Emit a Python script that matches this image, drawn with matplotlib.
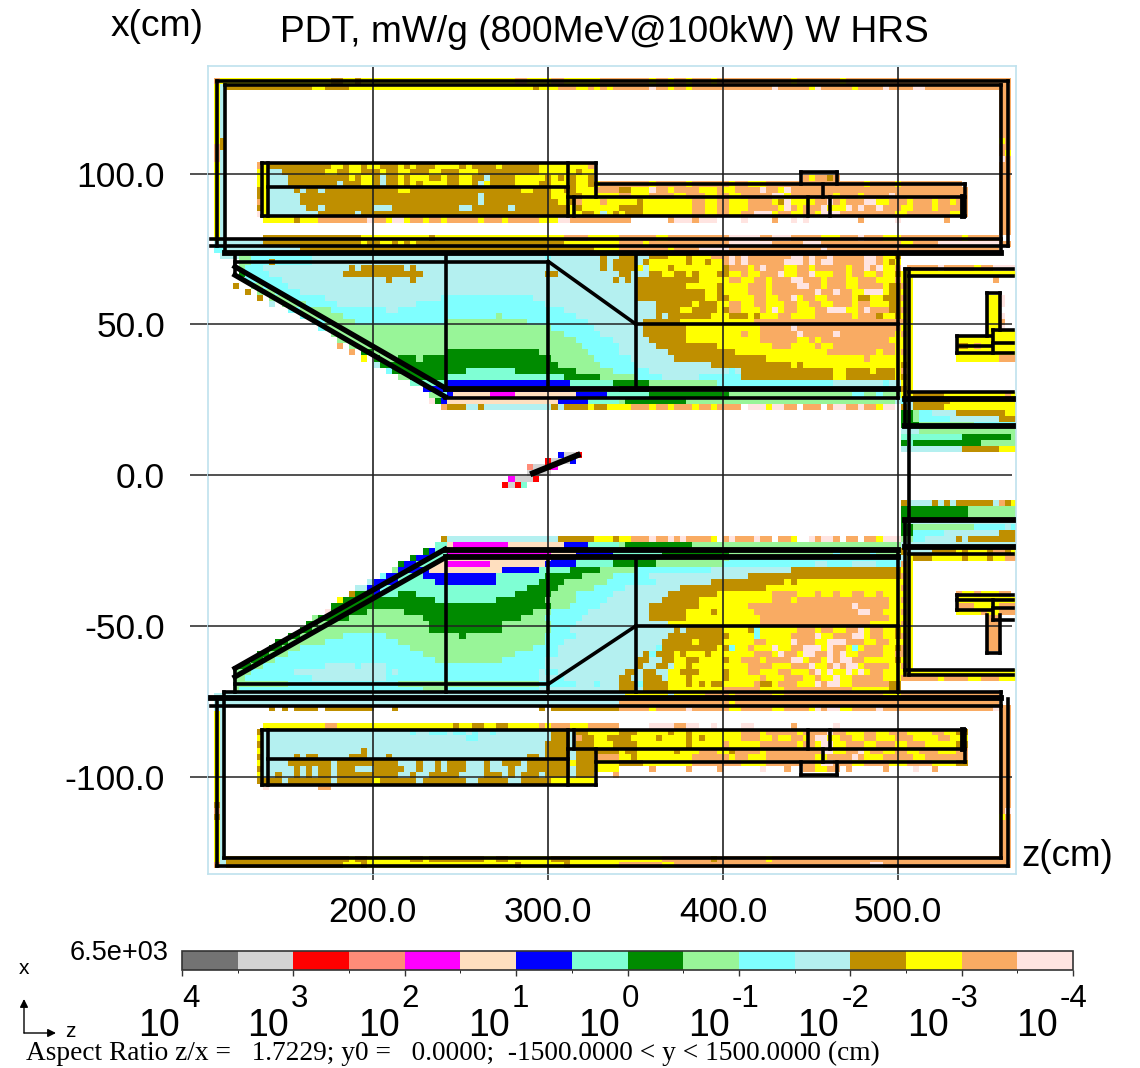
import re

import matplotlib
matplotlib.use('Agg')
import matplotlib.pyplot as plt
import numpy as np

from matplotlib.collections import LineCollection
from matplotlib.colors import BoundaryNorm, ListedColormap

# Colour bands from 10^4 down to 10^-4, two per decade
band_keys = 'glrsmpbaGLctoynw'
band_colours = [
    '#737373', '#d3d3d3', '#ff0000', '#ff8c78', '#ff00ff', '#ffdfbf',
    '#0000ff', '#7fffd4', '#008b00', '#98f598', '#7fffff', '#b4f0f0',
    '#bf8f00', '#ffff00', '#f9ab63', '#ffe4e1']
band_values = [3.75, 3.25, 2.75, 2.25, 1.75, 1.25, 0.75, 0.25,
               -0.25, -0.75, -1.25, -1.75, -2.25, -2.75, -3.25, -3.75]

z_ticks = [200, 300, 400, 500]
z_labels = ['200.0', '300.0', '400.0', '500.0']
x_ticks = [100, 50, 0, -50, -100]
x_labels = ['100.0', '50.0', '0.0', '-50.0', '-100.0']
bar_decades = [4, 3, 2, 1, 0, -1, -2, -3, -4]

# Cell rows: a letter is the band, the number the column where it stops
top_wall_rows = [
    ".1 n2 y20 o22 y24 o25 y50 n52 y56 n58 y64 n72 y73 n75 y76 n78 y79 n82 y83 n95 y96 n103 y104 n131",
    ".1 y2 t3 o17 y19 o23 y53 o54 y57 n60 y62 n63 y64 n65 y66 n72 w73 n75 y76 n78 y79 n92 w93 n98 y99 w100 n105 y106 n110 w111 n115 w117 n131"]
upper_side_rows = [".1 y2 t3 .129 n131"] * 24
upper_side_spots = [".2 o3 .129 y130", ".1 n2 .2 o3", ".1 n2 .130 y131", ".1 n2 .129 w130"]
upper_magnet_rows = [
    ".8 n9 y10 o20 y22 o23 y25 o26 y28 o31 y32 o33 y34 o37 y41 o42 y43 o47 y48 o51 o54 y59 y62 n63",
    ".8 y10 t12 o19 y21 o23 y25 o28 y29 o31 y33 o36 y38 o41 y44 o50 o54 y60 o61 y63",
    ".8 y10 t13 o23 y24 o25 y27 o28 t29 o31 y32 o33 y36 o38 y39 o41 y43 o45 t46 o50 y55 o56 y57 o58 y59 o60 y62 o63",
    ".8 y10 t13 o21 t22 o25 y27 o28 t29 o31 y32 o33 y34 o35 y39 o41 y43 o44 t45 y46 o50 y54 o56 y59 o60 y62 o63 y64 n72 y73 n78 y79 n85 y86 n88 y91 n107 y108 n112 y113 n123",
    ".8 o9 y10 t14 o15 t16 o18 t19 o31 y33 o51 y53 o56 y58 o60 y63 n67 o69 y72 w73 n75 y76 n80 y83 n84 y86 n90 w91 n93 y94 w95 n124",
    ".8 o9 y10 t15 o44 t45 o56 y59 o61 y67 n69 y72 n76 y78 n81 y83 n85 y87 n92 w94 y95 n102 y103 n106 y107 n111 w112 n124",
    ".8 n9 y10 t15 o44 t45 o57 y59 o60 n61 y64 n65 y70 o71 y79 n81 y83 n85 y88 n92 y93 o94 w95 y97 y99 n101 w102 n103 y104 n107 w109 y111 n114 y115 n118 y119 n121 y122 n124",
    ".8 o9 y10 t16 o18 t19 o27 t30 o41 t43 o49 t50 o59 y60 o61 y67 o71 y79 n81 y83 n85 y88 n93 y94 w95 n96 y97 n100 w101 y102 y104 w105 n106 w107 n109 w110 n113 y115 n118 y119 n124",
    ".8 w9 y10 t18 o24 t25 o59 y61 o63 y64 t65 y66 o67 y68 o71 y79 n81 y83 n85 y87 n89 w92 y93 n95 y97 n99 y100 w103 n112 y114 n121 y123 n124",
    ".9 y14 o15 y18 n26 w27 n29 y30 w32 y33 n35 y36 n38 y39 n44 y45 n48 y49 n54 y57 w59 n69 .75 n76 w79 n80 w83 .87 w88 .92 n93 .95 w96 .97 w98 .106 n107 .112 w113 .120 n121"]
upper_bump_rows = [".97 n98 y99 n101 o102 n103"]
lower_bump_rows = [".97 n99 y101 n103"]
upper_gap_rows = [
    ".1 y2 t3 .9 o25 y36 o37 y58 n62 y67 n73 y75 n85 w90 n92 w95 n100 y103 n106 w107 n110 y113 n123 y124 n129",
    ".1 t3 t9 o25 y26 o28 y30 o31 y32 o33 y34 o58 y67 n71 y72 n85 w92 n97 w100 n113 y115 n119 w129 n131",
    ".1 c3 t15 o63 y67 n75 y76 n80 w85 n100 w101 n129"]
upper_wedge_rows = [
    ".2 t5 L7 c17 t55 c56 t64 o65 t67",
    ".5 L7 c10 o11 c17 t64 o65 t66 o67",
    ".5 L6 c9 t23 o24 t25 o32 t33 o34 t64 o65 t66 o67",
    ".5 G6 c10 t22 o35 t55 o57 t67",
    ".6 c12 t29 o30 t33 o34 t66 o67",
    ".4 o5 .7 L9 c13 t67",
    ".6 o7 .8 L11 c15 t67",
    ".8 o9 .10 L13 c19 t38 c53 t67",
    ".10 t11 .12 L16 c21 t34 c55 t67",
    ".13 c15 L20 c29 t31 c58 t67",
    ".15 c16 L22 c47 L48 c60 t67",
    ".17 c19 L24 c39 L52 c62 t67",
    ".18 c19 L56 c63 t67",
    ".20 L58 c64 t67",
    ".21 L60 c66 t67",
    ".21 n22 .23 L61 c67",
    ".23 n24 .25 G27 L39 G54 L62 c67",
    ".25 y26 .27 G28 L31 G34 L35 G56 L63 c67",
    ".27 t28 G57 L64 c67",
    ".29 c30 G42 a50 G60 L66 c67",
    ".31 L33 G39 a58 G64 L67",
    ".33 a39 b59 a66 G67",
    ".35 b59 a67",
    ".36 L38 c39 b40 p46 m50 p60 b65 a67",
    ".36 w37 G38 b39 p57 b62 a67",
    ".38 n39 o42 t44 o45 t56 o57 t58 o62 y63 o65 y67"]
upper_wedge_right_rows = [
    ".67 o70 t72 o75 y78 o79 y82 n85 w86 n87 w88 n95 w97 n98 w99 n101 w102 n107 w109 n110 y112 o113",
    ".67 o70 t71 o72 y78 o79 y81 o82 y84 n85 w86 n87 w88 n94 w97 n98 w99 n100 w102 n107 w109 n110 y111 o112 y113",
    ".67 o70 y71 t72 y75 o76 y84 o85 n88 y89 n90 w91 n94 y96 n98 y99 n104 y105 n107 w108 n109 w110 y112 n113",
    ".67 o69 t72 o74 y76 o78 y79 o80 y83 o85 y87 n88 y90 n93 w94 y96 n98 w99 y102 n104 y105 n107 y109 n110 y112 o113",
    ".67 t68 o69 t70 o80 y85 n87 y89 n91 y92 n95 w97 n100 y101 n104 y106 n109 y112 n113",
    ".67 t70 o78 y83 o84 y88 n91 y92 n96 w98 n100 y101 n104 y106 n110 y111 o113",
    ".67 t70 o81 y83 o84 y88 n91 y92 n99 w100 n102 w103 n105 y107 w110 y111 o113",
    ".67 t70 o81 y83 o85 y89 n91 y93 n95 w96 y97 n99 y101 n105 y106 o108 y110 o113",
    ".67 t73 o79 y80 o83 y85 n87 y89 n91 y94 n96 y98 n100 y102 n105 y106 n108 y111 o113",
    ".67 t73 o77 y79 o83 y84 o85 n87 y90 n91 y92 w93 y94 n96 y99 n101 w104 y106 n107 w108 n111 o113",
    ".67 t73 o74 t75 o82 y85 o88 y89 o90 y93 n95 y99 n105 y106 n109 o110 y112 o113",
    ".67 t71 o77 y89 n113",
    ".67 t71 o78 y90 n95 w96 n113",
    ".67 t71 o78 y87 n88 y90 n96 w97 n102 w103 n112 y113",
    ".67 t72 o78 y90 n96 y98 n99 y100 n111 y113",
    ".67 t73 o83 y92 n95 y99 n100 y102 n112 y113",
    ".67 t75 o86 y101 n109 y110 n112 y113",
    ".67 c69 t76 o91 y107 n108 y113",
    ".67 c70 t82 o95 y96 o97 y113",
    ".67 c72 t85 c86 t87 o102 y104 o108 y109 o112 y113",
    ".67 L70 c74 t80 c87 o102 y104 o112 y113",
    ".67 G72 L83 c102 t110 c111 t113",
    ".67 G72 L85 c113",
    ".67 a72 G85 L105 c107 L109 c110 L113",
    ".67 L68 G78 L113",
    ".67 y69 n72 y73 n75 y76 n79 y80 n82 y83 n87 .88 w91 y92 w94 n96 .97 n100 .101 n102 w104 n106 w107 n109 y110 w112"]
right_upper_rows = [
    ".114 n119 w120 n125 y126 n128 w132",
    ".113 y132",
    ".113 y115 .128 n129",
    ".113 n114 y115",
    ".113 y115",
    ".113 n114 y115 .127 y129 w130",
    ".113 y115 .127 y129 w130",
    ".113 n114 y115 .127 y129",
    ".113 y115 .127 y129 w130",
    ".113 n114 y115 .127 y129 n130",
    ".113 y115 .127 y129 w130",
    ".113 n114 y115 .127 y132",
    ".113 y115 .122 y132",
    ".113 y115 .122 o124 y125 n126 y132",
    ".113 n114 y115 .122 y132",
    ".113 y115 .122 y129 n132",
    ".113 o114 y115",
    ".113 n114 y115",
    ".113 o114 y115",
    ".113 y115",
    ".113 o114 y115",
    ".113 y114 y115 o120 y130 n131 y132",
    ".112 t113 c114 t115 o121 y132",
    ".113 o114 t115 o120 y132",
    ".113 G115 L116 c118 t122 o130 y132",
    ".113 G115 L116 c121 t129 o132",
    ".113 G116 L125 c132",
    ".113 t116 L132",
    ".113 a123 G131 L132",
    ".113 G114 a115 G126 L132",
    ".113 t123 o129 y132"]
target_rows = [
    ".57 b58 l60 r61",
    ".55 r56 l59 b60",
    ".52 s53 l55 r56 m57",
    ".52 l56",
    ".49 m50 l53 r54",
    ".48 r49 l50 r51 a52"]
right_lower_rows = [
    ".113 o114 t118 o119 t120 o121 t122 o128 t129 n130 o131 y132",
    ".113 G124 L132",
    ".113 G124 L132",
    ".113 G114 t132",
    ".113 G115 L125 c130 t131 c132",
    ".113 G115 c120 t129 o132",
    ".113 L115 c117 t122 o123 t124 o132",
    ".113 t115 t132",
    ".113 o114 t118 o122 y123 o124 y127 o128 n130 o131 y132",
    ".113 t114 y115 o118 y123 o124 y127 o128 y130 n132",
    ".113 n114 y115",
    ".113 y115",
    ".113 n114 y115",
    ".113 y115",
    ".113 n114 y115",
    ".113 y115 .122 n123 y125 n126 y129 n131",
    ".113 n114 y115 .122 y132",
    ".113 y115 .122 n125 y129 n132",
    ".113 n114 y115 .122 y126 n127 y129 n132",
    ".113 y115 .127 n129",
    ".113 n114 y115 .127 n129",
    ".113 y115 .127 n129",
    ".113 n114 y115 .127 n129",
    ".113 y115 .127 n129",
    ".113 n114 y115 .127 n129",
    ".113 n114 y115",
    ".113 y115",
    ".113 n114 y115",
    ".113 y132",
    ".113 n119 y120 n124 y126 n129 y132"]
lower_wedge_rows = [
    ".38 o39 t57 o63 y66 o67",
    ".37 a39 p40 m49 p58 b62 a67",
    ".35 G36 b37 a39 m56 p60 b66 a67",
    ".33 G34 b36 a39 p56 b60 a66 G67",
    ".31 G32 b34 a37 p39 m46 p55 b60 a66 G67",
    ".30 L31 b36 p48 b54 a59 G64 L67",
    ".28 c29 b31 a35 b47 a55 G61 L66 c67",
    ".26 t27 b31 a37 b47 a54 G58 L65 c67",
    ".24 t26 b28 c29 a52 G57 L63 c67",
    ".23 o24 G27 b28 a31 G34 a50 G56 L60 c66 t67",
    ".21 y22 G37 a47 G55 L60 c65 t67",
    ".20 G56 L59 c64 t67",
    ".19 w20 G26 L32 G53 L56 c62 t67",
    ".17 L18 G23 L35 G51 L55 c61 t67",
    ".16 G18 L36 G48 L56 c60 t67",
    ".15 G17 L36 G48 L56 c59 t67",
    ".13 G15 L22 c29 L41 G42 L55 c60 t67",
    ".11 G13 L19 c31 L55 c58 t67",
    ".10 G12 L15 c33 L53 c57 t67",
    ".8 G10 L13 c35 L50 c57 t67",
    ".7 G9 L11 c37 L48 c55 t67",
    ".5 G7 L9 c19 t24 c25 t29 c55 t67",
    ".4 L7 c14 t29 c30 t31 c54 t55 c57 t67",
    ".4 L6 c17 t29 c54 t57 c58 t67",
    ".4 L13 c31 L54 c60 t63 c64 t67",
    ".4 L5 c35 L39 c54 t67"]
lower_wedge_right_rows = [
    ".67 y69 n72 w73 n75 w76 n77 w78 n82 y83 .84 n85 w86 n89 w90 n92 .93 n95 y96 .98 w99 n100 w102 n103 .104 n106 .107 n109 y110 w113",
    ".67 L68 G79 L113",
    ".67 a74 G85 L102 c103 L108 c109 L113",
    ".67 G73 L85 c113",
    ".67 G73 L84 c99 t101 c105 t109 c113",
    ".67 L70 c82 t95 o113",
    ".67 c72 t88 o113",
    ".67 c73 t82 o94 y95 o96 y113",
    ".67 c68 t77 o91 y113",
    ".67 t75 o83 y92 n96 y99 n100 y102 n103 y105 n107 y109 n110 y113",
    ".67 t74 o80 y92 n95 y96 n111 y113",
    ".67 t72 o80 y88 n105 w106 n111 y113",
    ".67 t72 o78 y82 o83 y89 n106 w108 n110 y113",
    ".67 t72 o78 y90 n111 y113",
    ".67 t75 y90 n108 y113",
    ".67 t76 o77 t78 o84 y88 o89 c90 y96 n99 y100 n102 y104 n106 w107 y108 n110 y112 o113",
    ".67 t75 o85 y89 c90 y95 n99 w100 y102 n105 w107 y108 n110 y112 o113",
    ".67 t74 o79 y80 o84 y89 n91 y95 w96 n99 y101 w104 n107 y109 n111 y113",
    ".67 t73 c74 o83 y84 o85 c86 y88 n89 y92 w93 y95 n97 w100 y101 w102 n104 y105 c106 y107 n110 y112 o113",
    ".67 t71 o72 c73 o76 y77 o78 y81 o82 y89 n92 y93 w94 n96 y97 w99 n101 w102 n103 w104 y106 n110 y112 n113",
    ".67 t70 o72 t74 o76 y78 o80 y84 o85 y87 n90 y91 n95 w97 y98 n100 y101 w102 n103 w105 n107 y112 o113",
    ".67 t70 o71 t73 o75 t76 y78 o79 y88 n92 y95 n98 w99 y101 n102 w103 n104 w106 y107 n111 y113",
    ".67 t68 o70 t71 o73 t75 y77 o80 y84 o85 y88 n90 y93 n95 y98 n99 w100 y101 w102 y104 w105 y106 w107 y108 n110 y113",
    ".67 o69 t71 o74 t75 y78 o79 y84 o85 y90 n91 y94 n97 y99 n100 y102 w103 y105 n110 y113",
    ".67 o70 c71 o75 y78 o79 y80 o81 y82 o84 y89 n90 o92 y93 n96 y99 w100 n101 w103 y105 n111 o113",
    ".67 o70 t71 o75 y84 n90 y94 n105 y111 o113"]
lower_gap_rows = [
    ".1 t68 y75 t76 y81 n85 y86 n92 y94 n110 y113 n129",
    ".1 t67 n85 y86 n129",
    ".1 t3 .10 o11 .12 o13 .14 o18 .19 o27 .30 o31 .54 o55 .56 o67 n72 y73 n78 w79 n85 y87 n92 y94 n98 y99 w100 n101 w103 y105 n109 w110 n128 w129 n131"]
lower_side_rows = [".1 y2 t3 .129 n131"] * 24
lower_side_spots = [".1 o2", ".1 n2 .130 w131", ".1 o2 .129 y130"]
lower_magnet_rows = [
    ".9 y19 n21 y40 o41 y43 o45 y47 o49 y54 n55 y56 n59 y62 n67 .72 w73 w76 n78 w80 .82 w83 .87 w89 .95 n96 .102 w103",
    ".8 o9 t33 c34 t36 c39 t40 c42 t43 c44 t46 c47 t56 o59 t60 o62 y67 o70 y75 o76 y78 o79 y87 n90 y91 n96 y97 n101 w102 n104 y107 n109 y111 n114 y118 n120 y122 o124",
    ".8 y9 t42 c44 t56 o59 t60 n61 o63 y65 o67 o69 y73 o74 y78 o79 y80 o81 y87 n90 y92 n93 y95 n97 y98 n99 w101 y103 n105 y107 n109 y112 n115 y119 n121 y124",
    ".8 o9 t55 o59 t60 o63 y66 o68 o70 y75 y78 o79 y84 n85 y90 n96 y97 n99 y100 w102 y104 n107 y109 n112 y114 n117 y122 o124",
    ".8 y9 t25 o26 t55 o59 t60 o63 o67 y68 o70 y76 o77 y80 n83 y85 o86 n90 y91 n98 n100 w102 y104 n106 w107 y108 n110 y112 n114 y116 n119 y122 n124",
    ".8 o9 t14 o15 t16 o18 t23 o26 t29 o30 t52 o54 t55 o59 t60 o63 n67 y69 o70 y79 n85 y86 n88 y91 n99 y101 n105 w106 n107 y110 n115 y117 n122 n124",
    ".8 y9 t13 o20 t21 o31 t34 o35 t37 o38 t39 o42 t45 o46 t48 o51 t52 o59 y60 o63 y67 o71 y79 n84 n87 y91 n99 y100 w102 n105 y107 n111 y114 n118 y122 o124",
    ".8 o9 t14 o15 t16 o17 t18 o20 t21 o24 t27 o32 t34 o35 t37 o38 t39 o42 t45 o46 t49 o50 t52 o59 t60 o63 y67 .72 n73 .78 n79 .83 n84 .90 w91 .94 n95 .104 n105 .110 n111 .115 w116 .118 n119",
    ".8 y9 t11 o12 t14 o15 t16 o17 t18 o20 t21 o31 t33 o34 t36 o41 t45 o48 t49 o50 t51 o54 t55 o59 t60 o63 .66 n67",
    ".8 o9 o12 t13 o20 t21 o27 y28 o34 t35 o42 t44 o49 t51 o56 y59 y63",
    ".9 w10 .18 n20"]
bottom_wall_rows = [
    ".1 y2 t3 o23 y24 o26 y33 o35 y36 o45 y47 o49 y56 o59 y74 n82 o83 n91 y92 n131",
    ".1 n2 t3 o22 y25 o26 y50 o51 y58 o59 y67 n74 y76 n108 w110 n131"]

# Outlines of the geometry, z and x in cm, (z1, x1, z2, x2)
thin_lines = [
    (111.3, 130.8, 562.4, 130.8), (115.7, 129.3, 558.4, 129.3),
    (111.3, 130.8, 111.3, 76.0), (115.7, 129.3, 115.7, 73.7),
    (562.4, 130.8, 562.4, 76.0), (558.4, 129.3, 558.4, 73.7),
    (107.7, 78.2, 558.4, 78.2), (107.7, 76.0, 562.4, 76.0),
    (136.6, 103.6, 327.5, 103.6), (136.6, 85.9, 538.0, 85.9),
    (136.6, 103.6, 136.6, 85.9), (140.4, 103.6, 140.4, 85.9),
    (140.4, 95.4, 311.7, 95.4), (311.7, 103.6, 311.7, 85.9),
    (315.0, 92.3, 315.0, 85.9), (311.7, 92.3, 538.0, 92.3),
    (327.5, 103.6, 327.5, 92.3), (327.5, 96.5, 538.0, 96.5),
    (538.0, 96.5, 538.0, 85.9), (444.5, 96.5, 444.5, 100.6),
    (444.5, 100.6, 464.8, 100.6), (464.8, 100.6, 464.8, 96.5),
    (457.2, 96.5, 457.2, 92.3), (448.6, 92.3, 448.6, 85.9),
    (461.0, 92.3, 461.0, 85.9),
    (121.4, 70.8, 300.3, 70.8), (121.4, 73.7, 121.4, 66.3),
    (241.8, 73.7, 241.8, 28.7), (300.3, 70.8, 300.3, 28.7),
    (350.3, 73.7, 350.3, 28.7), (300.3, 70.8, 350.3, 50.0),
    (350.3, 50.0, 500.0, 50.0), (500.0, 73.7, 500.0, 25.6),
    (241.3, 25.6, 500.0, 25.6),
    (503.8, 68.3, 503.8, 16.4), (506.3, 68.3, 506.3, -66.3),
    (503.8, 68.3, 565.5, 68.3), (506.3, 66.1, 565.5, 66.1),
    (506.3, 27.6, 565.5, 27.6),
    (550.5, 60.3, 558.0, 60.3), (550.5, 60.3, 550.5, 46.1),
    (558.0, 60.3, 558.0, 48.0), (533.7, 46.1, 553.3, 46.1),
    (533.7, 46.1, 533.7, 40.4), (533.7, 40.4, 565.5, 40.4),
    (535.0, 42.9, 553.3, 42.9), (553.9, 48.0, 553.9, 40.4),
    (553.9, 48.0, 565.5, 48.0), (553.9, 43.7, 565.5, 43.7),
    (550.5, -46.4, 550.5, -59.1), (550.5, -59.1, 558.0, -59.1),
    (558.0, -59.1, 558.0, -46.4), (533.7, -39.8, 565.5, -39.8),
    (533.7, -41.5, 565.5, -41.5), (533.7, -39.8, 533.7, -44.8),
    (533.7, -44.8, 553.3, -44.8), (553.9, -41.5, 553.9, -48.0),
    (553.9, -48.0, 565.5, -48.0), (553.9, -44.0, 565.5, -44.0),
    (503.8, -14.9, 503.8, -66.3), (503.8, -64.7, 565.5, -64.7),
    (506.3, -66.3, 565.5, -66.3), (506.3, -26.3, 565.5, -26.3),
    (241.8, -27.3, 241.8, -71.9), (300.0, -27.3, 300.0, -71.9),
    (350.3, -27.3, 350.3, -71.9), (500.0, -24.9, 500.0, -71.9),
    (121.4, -69.3, 300.0, -69.3), (300.3, -69.3, 350.3, -50.0),
    (350.3, -50.0, 500.0, -50.0), (121.4, -64.1, 121.4, -71.9),
    (115.1, -71.9, 558.4, -71.9), (107.7, -76.6, 558.4, -76.6),
    (111.3, -74.3, 111.3, -129.6), (115.1, -71.9, 115.1, -127.1),
    (558.4, -71.9, 558.4, -127.1), (562.4, -74.3, 562.4, -129.6),
    (115.1, -127.1, 558.4, -127.1), (111.3, -129.6, 562.4, -129.6),
    (136.6, -84.4, 538.0, -84.4), (136.6, -102.8, 327.5, -102.8),
    (136.6, -84.4, 136.6, -102.8), (140.4, -84.4, 140.4, -102.8),
    (140.4, -94.0, 311.7, -94.0), (311.7, -84.4, 311.7, -102.8),
    (315.0, -84.4, 315.0, -90.7), (311.7, -90.7, 538.0, -90.7),
    (327.5, -90.7, 327.5, -102.8), (327.5, -95.0, 538.0, -95.0),
    (538.0, -84.4, 538.0, -95.0), (444.5, -95.0, 444.5, -99.5),
    (444.5, -99.5, 464.8, -99.5), (464.8, -99.5, 464.8, -95.0),
    (457.2, -90.7, 457.2, -95.0), (448.6, -84.4, 448.6, -90.7),
    (461.0, -84.4, 461.0, -90.7)]
thick_lines = [
    (115.7, 73.7, 558.4, 73.7), (241.8, 28.7, 500.0, 28.7),
    (503.8, 25.2, 565.5, 25.2), (503.8, 16.4, 565.5, 16.4),
    (503.8, -14.9, 565.5, -14.9), (503.8, -23.8, 565.5, -23.8),
    (241.8, -24.9, 500.0, -24.9), (241.8, -27.3, 500.0, -27.3),
    (107.7, -73.9, 558.4, -73.9), (537.0, 92.3, 537.0, 85.9),
    (537.0, -84.4, 537.0, -90.7)]
slope_lines = [
    (121.4, 69.1, 242.2, 28.6), (121.4, 66.3, 241.3, 26.0),
    (121.4, -64.1, 241.3, -24.6), (121.4, -66.9, 242.2, -27.1)]
target_line = [(291.5, 0.6, 317.0, 6.6)]


def paint(field, first_row, rows):
    """Write run-length rows into `field`, starting at `first_row`."""
    for i, row in enumerate(rows):
        column = 0
        for key, end in re.findall(r'([a-zA-Z.])(\d+)', row):
            end = int(end)
            if key != '.':
                field[first_row + i, column:end] = band_values[
                    band_keys.index(key)]
            column = end


def draw_lines(ax, lines, width, zorder=4):
    segments = [((z1, x1), (z2, x2)) for z1, x1, z2, x2 in lines]
    ax.add_collection(LineCollection(
        segments, colors='black', linewidths=width, zorder=zorder,
        capstyle='projecting'))


def px(x, y):
    return x / WIDTH, 1 - y / HEIGHT


WIDTH, HEIGHT = 1140, 1068
n_rows, n_cols = 134, 132
z_edges = 106 + 3.5 * np.arange(n_cols + 1)
x_edges = 135.65 - 2.0 * np.arange(n_rows + 1)

field = np.full((n_rows, n_cols), np.nan)
for first_row, rows in [
        (2, top_wall_rows), (4, upper_side_rows), (16, upper_magnet_rows),
        (28, upper_gap_rows), (31, upper_wedge_rows),
        (31, upper_wedge_right_rows), (33, right_upper_rows),
        (64, target_rows), (72, right_lower_rows), (78, lower_wedge_rows),
        (78, lower_wedge_right_rows), (104, lower_gap_rows),
        (107, lower_side_rows), (109, lower_magnet_rows),
        (131, bottom_wall_rows), (12, upper_side_spots),
        (122, lower_side_spots), (18, upper_bump_rows),
        (116, lower_bump_rows)]:
    paint(field, first_row, rows)

plt.rcParams['font.family'] = ['Liberation Sans', 'DejaVu Sans']
fig = plt.figure(figsize=(WIDTH / 100, HEIGHT / 100), dpi=100)
ax = fig.add_axes([208 / WIDTH, 1 - 874 / HEIGHT, 808 / WIDTH, 808 / HEIGHT])

levels = np.arange(-4, 4.5, 0.5)
cmap = ListedColormap(band_colours[::-1])
norm = BoundaryNorm(levels, cmap.N)
mesh = ax.pcolormesh(z_edges, x_edges, np.ma.masked_invalid(field),
                     cmap=cmap, norm=norm, antialiased=False, zorder=1)

ax.set_xlim(106.0, 567.2)
ax.set_ylim(-132.3, 135.65)
for spine in ax.spines.values():
    spine.set_color('#bfe2ee')
    spine.set_linewidth(1.2)

ax.set_xticks(z_ticks, z_labels, fontsize=25.5)
ax.set_yticks(x_ticks, x_labels, fontsize=25.5)
ax.tick_params(axis='x', length=4.5, width=1.1, pad=11, color='#222222')
ax.tick_params(axis='y', length=13, width=1.1, pad=18, color='#222222')
for label in ax.get_yticklabels():
    label.set_va('center_baseline')
ax.vlines(z_ticks, -132.3, 135.2, colors='#222222', linewidth=1.2, zorder=3)
ax.hlines(x_ticks, 106.0, 565.0, colors='#222222', linewidth=1.1, zorder=3)

draw_lines(ax, thin_lines, 2.6)
draw_lines(ax, thick_lines, 4.2)
draw_lines(ax, slope_lines, 3.8)
draw_lines(ax, target_line, 4.3)

fig.text(*px(604, 32), 'PDT, mW/g (800MeV@100kW) W HRS', fontsize=26.7,
         ha='center', va='center')
fig.text(*px(157, 26), 'x(cm)', fontsize=26.8, ha='center', va='center')
fig.text(*px(1067, 857), 'z(cm)', fontsize=26.5, ha='center', va='center')

# Colour bar runs from the largest decade on the left
cax = fig.add_axes([182 / WIDTH, 1 - 970 / HEIGHT, 891 / WIDTH, 19 / HEIGHT])
bar = fig.colorbar(mesh, cax=cax, orientation='horizontal', drawedges=True,
                   spacing='proportional', ticks=bar_decades)
cax.invert_xaxis()
bar.outline.set_edgecolor('#333333')
bar.outline.set_linewidth(1.2)
bar.dividers.set_color('#333333')
bar.dividers.set_linewidth(1.2)
cax.tick_params(length=4.5, width=1.0, labelbottom=False, color='#333333')

label_shift = [2, 5, 5, 6, 8, 9, 11, 13, 15]
for decade, shift in zip(bar_decades, label_shift):
    tick_px = 182 + (4 - decade) * 891 / 8
    fig.text(*px(tick_px - shift, 1036), '10', fontsize=27, ha='right',
             va='baseline')
    fig.text(*px(tick_px - shift + 2, 1007), str(decade), fontsize=22.5,
             ha='left', va='baseline')

fig.text(*px(70, 953), '6.5e+03', fontsize=19.5, ha='left', va='center')
fig.text(*px(24, 968), 'x', fontsize=15, ha='center', va='center')
fig.text(*px(70, 1037), 'z', fontsize=15, ha='center', va='baseline')
for tip in [(24, 999), (56, 1033)]:
    fig.add_artist(plt.Annotation(
        '', xy=px(*tip), xytext=px(24, 1033), xycoords='figure fraction',
        textcoords='figure fraction',
        arrowprops=dict(arrowstyle='-|>', color='black', lw=1.0,
                        mutation_scale=12, shrinkA=0, shrinkB=0)))
fig.text(*px(26, 1053),
         'Aspect Ratio z/x =   1.7229; y0 =   0.0000;  '
         '-1500.0000 < y < 1500.0000 (cm)',
         fontsize=19.75, family=['Liberation Serif'], ha='left', va='center')

fig.savefig('out.png', dpi=100)
